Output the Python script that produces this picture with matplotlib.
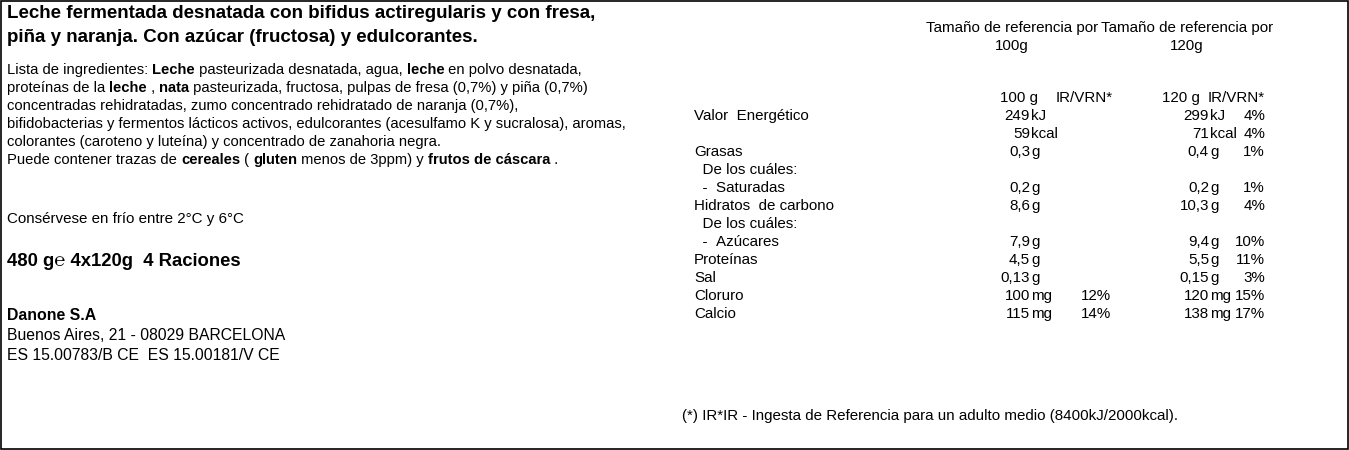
import matplotlib
matplotlib.use("Agg")
import matplotlib.pyplot as plt
from matplotlib.patches import Rectangle

title_lines = ["Leche fermentada desnatada con bifidus actiregularis y con fresa,",
               "piña y naranja. Con azúcar (fructosa) y edulcorantes."]
ingredients = [
    [("Lista de ingredientes: ", False), ("Leche", True), (" pasteurizada desnatada, agua, ", False), ("leche", True), (" en polvo desnatada,", False)],
    [("proteínas de la ", False), ("leche", True), (" , ", False), ("nata", True), (" pasteurizada, fructosa, pulpas de fresa (0,7%) y piña (0,7%)", False)],
    [("concentradas rehidratadas, zumo concentrado rehidratado de naranja (0,7%),", False)],
    [("bifidobacterias y fermentos lácticos activos, edulcorantes (acesulfamo K y sucralosa), aromas,", False)],
    [("colorantes (caroteno y luteína) y concentrado de zanahoria negra.", False)],
    [("Puede contener trazas de ", False), ("cereales", True), (" ( ", False), ("gluten", True), (" menos de 3ppm) y ", False), ("frutos de cáscara", True), (" .", False)],
]
storage = "Consérvese en frío entre 2°C y 6°C"
weight = "480 g\u212e 4x120g  4 Raciones"
company = ["Danone S.A", "Buenos Aires, 21 - 08029 BARCELONA", "ES 15.00783/B CE  ES 15.00181/V CE"]

labels = ["Valor  Energético", "", "Grasas", "  De los cuáles:", "  -  Saturadas", "Hidratos  de carbono",
          "  De los cuáles:", "  -  Azúcares", "Proteínas", "Sal", "Cloruro", "Calcio"]
v100 = ["249", "59", "0,3", "", "0,2", "8,6", "", "7,9", "4,5", "0,13", "100", "115"]
u100 = ["kJ", "kcal", "g", "", "g", "g", "", "g", "g", "g", "mg", "mg"]
ir100 = ["", "", "", "", "", "", "", "", "", "", "12%", "14%"]
v120 = ["299", "71", "0,4", "", "0,2", "10,3", "", "9,4", "5,5", "0,15", "120", "138"]
u120 = ["kJ", "kcal", "g", "", "g", "g", "", "g", "g", "g", "mg", "mg"]
ir120 = ["4%", "4%", "1%", "", "1%", "4%", "", "10%", "11%", "3%", "15%", "17%"]
footnote = "(*) IR*IR - Ingesta de Referencia para un adulto medio (8400kJ/2000kcal)."

FONT = ["Liberation Sans", "DejaVu Sans"]
fs = 10.9
fig = plt.figure(figsize=(13.49, 4.5), dpi=100)
ax = fig.add_axes([0, 0, 1, 1])
ax.set_xlim(0, 1349); ax.set_ylim(450, 0); ax.axis("off")
ax.add_patch(Rectangle((0.5, 0.5), 1347.5, 448, fill=False, lw=1.2, color="black"))
r = fig.canvas.get_renderer()

def T(x, y, s, bold=False, ha="left", size=fs):
    return ax.text(x, y, s, fontsize=size, family=FONT, fontweight="bold" if bold else "normal",
                   ha=ha, va="center", color="black")

for i, s in enumerate(title_lines):
    T(7, 14 + 23 * i, s, bold=True, size=13.5)
for i, segs in enumerate(ingredients):
    x = 7
    for s, b in segs:
        t = T(x, 70 + 18 * i, s.replace(" ", "\u00a0"), bold=b, size=10.65)
        x += t.get_window_extent(r).width
T(7, 219, storage)
T(7, 261, weight, bold=True, size=13.3)
T(7, 316, company[0], bold=True, size=11.4)
T(7, 336, company[1], size=11.3); T(7, 355, company[2], size=11.3)

T(1012, 28, "Tamaño de referencia por", ha="center"); T(1012, 46, "100g", ha="center")
T(1187, 28, "Tamaño de referencia por", ha="center"); T(1187, 46, "120g", ha="center")
T(1038, 98, "100 g", ha="right"); T(1113, 98, "IR/VRN*", ha="right")
T(1200, 98, "120 g", ha="right"); T(1265, 98, "IR/VRN*", ha="right")
for i, lab in enumerate(labels):
    y = 116 + 18 * i
    T(694, y, lab.replace(" ", "\u00a0"))
    T(1030, y, v100[i], ha="right"); T(1031, y, u100[i])
    T(1111, y, ir100[i], ha="right")
    T(1209, y, v120[i], ha="right"); T(1210, y, u120[i])
    T(1265, y, ir120[i], ha="right")
T(682, 416, footnote)
fig.savefig("out.png", dpi=100)
